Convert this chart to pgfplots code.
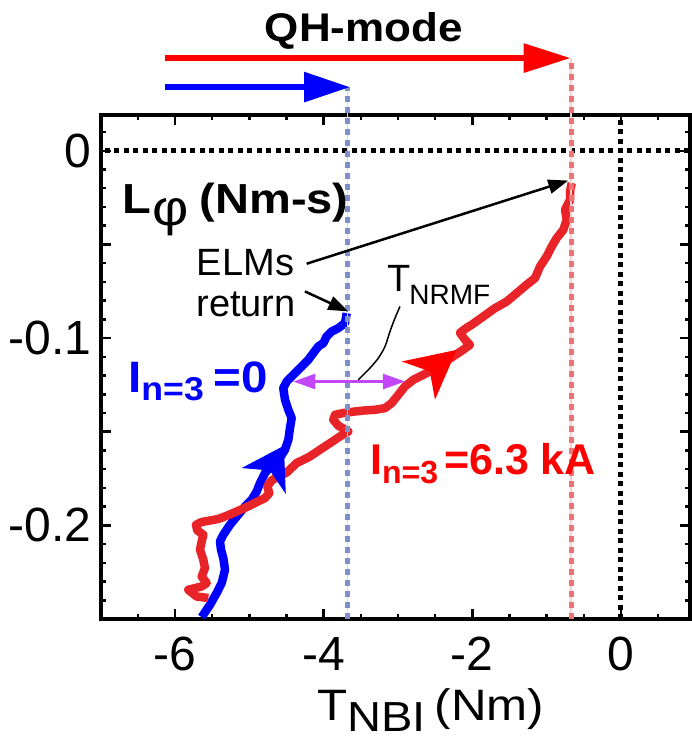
\documentclass[border=0pt]{standalone}
\usepackage{fontspec}
\setmainfont{Liberation Sans}
\usepackage{pgfplots}
\pgfplotsset{compat=1.18}
\usetikzlibrary{arrows.meta}
\definecolor{cblue}{RGB}{0,0,255}
\definecolor{cred}{RGB}{232,36,40}
\definecolor{pred}{RGB}{255,0,0}
\definecolor{dotblue}{RGB}{125,145,200}
\definecolor{dotred}{RGB}{240,115,115}
\definecolor{cviolet}{RGB}{195,70,250}
\newcommand{\fs}[1]{\fontsize{#1}{#1}\selectfont}
\begin{document}
\begin{tikzpicture}
\begin{axis}[
  at={(0,0)}, anchor=south west,
  scale only axis, width=589.2pt, height=503.8pt,
  xmin=-7, xmax=0.93, ymin=-0.25, ymax=0.019,
  clip=false,
  axis line style={line width=4.5pt},
  tick style={line width=2.5pt, black},
  major tick length=10pt, minor tick length=5pt,
  xtick={-6,-4,-2,0}, xticklabels={-6,-4,-2,0},
  minor xtick={-6.5,-6,...,0.5},
  ytick={-0.2,-0.15,-0.1,-0.05,0}, yticklabels={-0.2,,-0.1,,0},
  minor ytick={-0.24,-0.23,...,0.01},
  tick label style={font=\fs{48}},
  xticklabel style={inner sep=0pt, yshift=-18pt},
  yticklabel style={inner sep=0pt, xshift=-9.5pt},
]
% black dotted reference lines
\addplot[black, line width=5pt, dash pattern=on 5pt off 4.5pt] coordinates {(-6.95,0) (0.93,0)};
\addplot[black, line width=5pt, dash pattern=on 5pt off 4.5pt] coordinates {(0,-0.25) (0,0.019)};
% curves
\addplot[cblue, line width=8.5pt, line join=round] coordinates {
(-5.642,-0.2490) (-5.530,-0.2424) (-5.440,-0.2361) (-5.373,-0.2308) (-5.328,-0.2237)
(-5.351,-0.2175) (-5.382,-0.2130) (-5.396,-0.2086) (-5.351,-0.2050) (-5.261,-0.1997)
(-5.171,-0.1953) (-5.059,-0.1899) (-4.969,-0.1863) (-4.902,-0.1819) (-4.857,-0.1774)
(-4.790,-0.1721) (-4.696,-0.1676) (-4.588,-0.1639) (-4.521,-0.1596) (-4.476,-0.1543)
(-4.454,-0.1481) (-4.431,-0.1427) (-4.476,-0.1383) (-4.521,-0.1329) (-4.544,-0.1267)
(-4.498,-0.1232) (-4.409,-0.1196) (-4.296,-0.1152) (-4.207,-0.1116) (-4.140,-0.1080)
(-4.073,-0.1045) (-4.005,-0.1027) (-3.960,-0.0991) (-3.892,-0.0965) (-3.804,-0.0947)
(-3.713,-0.0920) (-3.690,-0.0867)};
\addplot[cred, line width=8.5pt, line join=round] coordinates {
(-5.553,-0.2388) (-5.709,-0.2380) (-5.822,-0.2344) (-5.642,-0.2326) (-5.575,-0.2308)
(-5.642,-0.2273) (-5.598,-0.2228) (-5.620,-0.2184) (-5.665,-0.2130) (-5.642,-0.2086)
(-5.620,-0.2050) (-5.701,-0.2027) (-5.719,-0.1997) (-5.642,-0.1982) (-5.530,-0.1974)
(-5.419,-0.1966) (-5.306,-0.1949) (-5.171,-0.1926) (-5.036,-0.1902) (-4.902,-0.1876)
(-4.790,-0.1854) (-4.732,-0.1828) (-4.759,-0.1792) (-4.700,-0.1760) (-4.611,-0.1739)
(-4.498,-0.1718) (-4.363,-0.1667) (-4.184,-0.1632) (-4.050,-0.1596) (-3.915,-0.1561)
(-3.780,-0.1525) (-3.669,-0.1499) (-3.803,-0.1468) (-3.871,-0.1436) (-3.848,-0.1410)
(-3.736,-0.1400) (-3.602,-0.1393) (-3.467,-0.1387) (-3.310,-0.1383) (-3.175,-0.1374)
(-3.085,-0.1347) (-2.996,-0.1303) (-2.906,-0.1258) (-2.794,-0.1223) (-2.614,-0.1187)
(-2.435,-0.1143) (-2.256,-0.1098) (-2.121,-0.1062) (-2.031,-0.1036) (-2.098,-0.1009)
(-2.166,-0.0972) (-2.075,-0.0945) (-2.008,-0.0929) (-1.852,-0.0885) (-1.694,-0.0840)
(-1.537,-0.0805) (-1.402,-0.0760) (-1.268,-0.0715) (-1.156,-0.0680) (-1.089,-0.0618)
(-0.999,-0.0564) (-0.931,-0.0511) (-0.864,-0.0466) (-0.775,-0.0422) (-0.729,-0.0368)
(-0.752,-0.0315) (-0.685,-0.0262) (-0.685,-0.0217) (-0.662,-0.0172)};
% coloured dotted verticals
\addplot[dotblue!35, line width=1.5pt] coordinates {(-3.68,-0.25) (-3.68,0.034)};
\addplot[dotblue, line width=5pt, dash pattern=on 6pt off 5pt] coordinates {(-3.68,-0.25) (-3.68,0.034)};
\addplot[dotred!35, line width=1.5pt] coordinates {(-0.67,-0.25) (-0.67,0.0495)};
\addplot[dotred, line width=5pt, dash pattern=on 6pt off 5pt] coordinates {(-0.67,-0.25) (-0.67,0.0495)};
% arrowheads on the curves
\addplot[fill=pred, draw=none] coordinates {(-2.210,-0.1063) (-2.950,-0.1125) (-2.572,-0.1178) (-2.502,-0.1329)};
\addplot[fill=cblue, draw=none] coordinates {(-4.536,-0.1575) (-5.104,-0.1694) (-4.725,-0.1707) (-4.510,-0.1832)};
% top QH-mode arrows
\addplot[pred, line width=6pt, -{Triangle[length=47pt,width=28pt]}] coordinates {(-6.136,0.0495) (-0.676,0.0495)};
\addplot[cblue, line width=6pt, -{Triangle[length=46pt,width=29pt]}] coordinates {(-6.136,0.0340) (-3.646,0.0340)};
% annotation arrows
\addplot[cviolet, line width=2.7pt, {Triangle[length=22pt,width=15pt]}-{Triangle[length=22pt,width=15pt]}] coordinates {(-4.409,-0.1232) (-2.906,-0.1232)};
\addplot[black, line width=2.5pt, -{Triangle[length=20pt,width=14pt]}] coordinates {(-4.229,-0.0603) (-0.708,-0.0159)};
\addplot[black, line width=2.5pt, -{Triangle[length=20pt,width=14pt]}] coordinates {(-4.252,-0.0751) (-3.669,-0.0858)};
\addplot[black, line width=1.5pt, smooth] coordinates {(-2.973,-0.0831) (-3.040,-0.0893) (-3.108,-0.0965) (-3.175,-0.1045) (-3.265,-0.1107) (-3.377,-0.1160) (-3.489,-0.1205) (-3.534,-0.1223)};
% texts
\node[anchor=base, inner sep=0pt, xscale=1.1, font=\bfseries\fs{40}] at (axis cs:-3.458,0.0584) {QH-mode};
\node[anchor=base west, inner sep=0pt, xscale=1.12, font=\bfseries\fs{42}] at (axis cs:-6.715,-0.0333) {L\kern1pt\raisebox{-12pt}{\mdseries\fs{50}φ}\hspace{10pt}(Nm-s)};
\node[anchor=base, inner sep=0pt, font=\fs{38}] at (axis cs:-5.052,-0.0667) {ELMs};
\node[anchor=base, inner sep=0pt, font=\fs{38}] at (axis cs:-5.046,-0.0886) {return};
\node[anchor=base west, inner sep=0pt, font=\fs{38}] at (axis cs:-3.148,-0.0753) {T\kern-1pt\raisebox{-13pt}{\fs{28}NRMF}};
\node[anchor=base west, inner sep=0pt, xscale=1.08, text=cblue, font=\bfseries\fs{44}] at (axis cs:-6.634,-0.1290) {I\raisebox{-8.6pt}{\fs{33}n=3}\hspace{9pt}=0};
\node[anchor=base west, inner sep=0pt, text=pred, font=\bfseries\fs{43}] at (axis cs:-3.377,-0.1731) {I\raisebox{-8.6pt}{\fs{32}n=3}\hspace{6pt}=6.3 kA};
\node[anchor=base west, inner sep=0pt, xscale=1.12, font=\fs{44}] at (axis cs:-4.090,-0.3043) {T\raisebox{-11pt}{\fs{42}NBI}\hspace{8pt}(Nm)};
\end{axis}
\pgfresetboundingbox
\path[use as bounding box] (-100.8pt,-123pt) rectangle (591.2pt,619pt);
\end{tikzpicture}
\end{document}
